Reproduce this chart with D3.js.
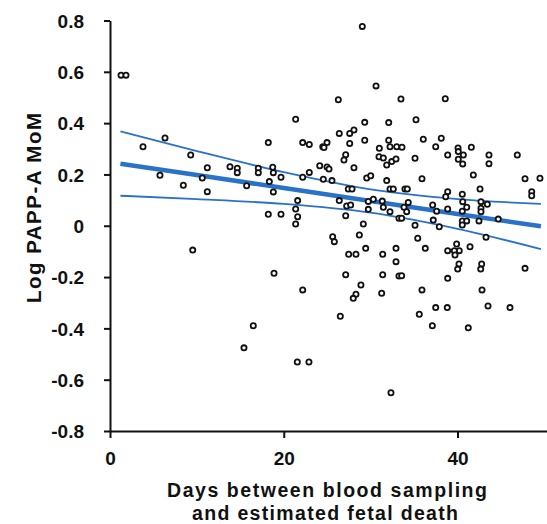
<!DOCTYPE html>
<html>
<head>
<meta charset="utf-8">
<script src="https://cdn.jsdelivr.net/npm/d3@7"></script>
<style>
  body { margin: 0; background: #fff; }
  svg text { font-family: "Liberation Sans", Arial, sans-serif; font-weight: bold; fill: #111; }
</style>
</head>
<body>
<svg id="canvas" width="547" height="524"></svg>
<script>
// days between sampling and fetal death
let days = [1.27,1.84,6.33,3.8,9.29,11.2,13.81,14.65,14.65,5.75,10.62,8.44,11.2,15.73,9.52,
  29.04,30.62,26.28,33.49,21.37,29.32,32.08,28.08,27.59,26.39,18.22,22.18,22.94,24.98,24.49,24.63,
  27.59,29.32,32.08,31.0,32.23,33.0,38.59,35.22,36.06,38.13,37.49,40.06,41.59,33.61,
  27.13,26.93,30.96,31.46,31.85,32.43,32.92,17.07,17.07,18.73,18.8,19.68,18.34,18.8,22.18,22.94,
  24.14,24.98,25.21,28.08,24.55,25.55,29.55,30.01,31.85,27.43,27.86,32.23,32.61,26.39,21.6,
  27.24,27.7,29.73,30.31,31.34,31.46,29.73,32.23,33.26,21.37,21.6,18.22,19.68,21.37,27.13,29.16,
  28.7,25.63,25.82,29.43,32.92,27.47,28.31,31.39,32.92,18.88,27.13,31.39,33.26,28.88,22.18,28.31,
  28.0,31.27,35.11,38.87,40.09,40.67,40.09,40.6,43.62,43.62,46.88,41.82,35.91,47.77,49.49,48.54,
  48.54,33.95,34.22,38.87,38.64,40.55,42.59,40.6,42.7,43.43,34.33,37.14,37.6,38.87,40.55,41.06,
  42.7,42.7,33.84,34.15,33.57,44.69,37.21,40.55,41.06,40.55,42.47,35.11,37.9,43.28,35.42,36.29,
  41.44,39.9,40.2,39.63,38.87,39.71,40.17,40.02,42.78,42.67,47.77,33.57,38.87,35.91,42.82,
  26.51,16.49,21.56,22.9,32.34,15.42,35.6,37.49,38.82,37.1,41.24,43.51,46.04]

// log PAPP-A MoM
let mom = [0.587,0.587,0.342,0.308,0.276,0.226,0.23,0.224,0.207,0.197,0.186,0.158,0.133,0.156,-0.095,
  0.777,0.545,0.491,0.494,0.415,0.403,0.402,0.373,0.36,0.36,0.324,0.324,0.317,0.324,0.308,0.305,
  0.321,0.333,0.333,0.302,0.308,0.308,0.495,0.413,0.337,0.341,0.308,0.303,0.306,0.306,
  0.277,0.256,0.269,0.264,0.237,0.25,0.26,0.224,0.207,0.228,0.207,0.189,0.172,0.132,0.189,0.208,
  0.234,0.229,0.221,0.226,0.181,0.176,0.186,0.195,0.176,0.143,0.143,0.143,0.143,0.098,0.098,
  0.077,0.081,0.095,0.103,0.096,0.072,0.064,0.055,0.029,0.065,0.035,0.045,0.045,0.007,0.039,0.007,
  -0.036,-0.043,-0.062,-0.088,-0.088,-0.111,-0.111,-0.111,-0.14,-0.185,-0.191,-0.191,-0.196,-0.231,-0.25,-0.267,
  -0.283,-0.263,0.263,0.276,0.289,0.276,0.259,0.241,0.276,0.242,0.276,0.198,0.183,0.183,0.185,0.133,
  0.117,0.143,0.143,0.133,0.113,0.123,0.143,0.094,0.094,0.084,0.091,0.081,0.057,0.065,0.057,0.072,
  0.068,0.055,0.072,0.055,0.029,0.026,0.022,0.019,0.019,0.003,0.019,0.002,-0.004,-0.045,-0.049,-0.088,
  -0.082,-0.071,-0.097,-0.097,-0.097,-0.114,-0.149,-0.169,-0.149,-0.169,-0.166,-0.195,-0.205,-0.25,-0.25,
  -0.353,-0.39,-0.531,-0.531,-0.651,-0.476,-0.345,-0.319,-0.319,-0.39,-0.398,-0.313,-0.319]

// regression line and 95% confidence band
let fitX = [1.2, 10, 20, 30, 40, 49.6]
let fitY = [0.242, 0.1975, 0.147, 0.0965, 0.046, -0.002]
let upperY = [0.368, 0.291, 0.209, 0.142, 0.104, 0.085]
let lowerY = [0.117, 0.104, 0.085, 0.051, -0.012, -0.091]

let xTicks = [0, 20, 40]
let yTicks = [-0.8, -0.6, -0.4, -0.2, 0, 0.2, 0.4, 0.6, 0.8]

let svg = d3.select("#canvas")

let x = d3.scaleLinear().domain([0, 50.3]).range([110, 547])
let y = d3.scaleLinear().domain([-0.8, 0.8]).range([431, 20.5])

let fmt = (d) => d === 0 ? "0" : d.toFixed(1)

let xAxis = svg.append("g")
  .attr("transform", "translate(0,431)")
  .call(d3.axisBottom(x).tickValues(xTicks).tickFormat(d3.format("d")).tickSize(7).tickSizeOuter(0))
let yAxis = svg.append("g")
  .attr("transform", "translate(110,0)")
  .call(d3.axisLeft(y).tickValues(yTicks).tickFormat(fmt).tickSize(6).tickSizeOuter(0).tickPadding(20))

svg.selectAll(".domain, .tick line").attr("stroke", "#111").attr("stroke-width", 2)
xAxis.selectAll("text").style("font-size", "19px").attr("dy", "0.71em").attr("y", 21)
yAxis.selectAll("text").style("font-size", "19px").attr("dy", "0.35em").attr("x", -26)

let line = d3.line().x((d) => x(d[0])).y((d) => y(d[1]))
let curve = d3.line().curve(d3.curveMonotoneX).x((d) => x(d[0])).y((d) => y(d[1]))

let fitColor = "#2a72c8"
svg.append("path")
  .attr("d", curve(fitX.map((d, i) => [d, upperY[i]])))
  .attr("fill", "none").attr("stroke", fitColor).attr("stroke-width", 1.8)
svg.append("path")
  .attr("d", curve(fitX.map((d, i) => [d, lowerY[i]])))
  .attr("fill", "none").attr("stroke", fitColor).attr("stroke-width", 1.8)
svg.append("path")
  .attr("d", line(fitX.map((d, i) => [d, fitY[i]])))
  .attr("fill", "none").attr("stroke", fitColor).attr("stroke-width", 4.5)

svg.selectAll("circle")
  .data(days.map((d, i) => [d, mom[i]]))
  .enter()
  .append("circle")
  .attr("cx", (d) => x(d[0]))
  .attr("cy", (d) => y(d[1]))
  .attr("r", 2.6)
  .attr("fill", "#fff")
  .attr("stroke", "#111")
  .attr("stroke-width", 1.8)

svg.append("text")
  .attr("transform", "translate(41,208) rotate(-90)")
  .attr("text-anchor", "middle")
  .style("font-size", "20.5px")
  .attr("textLength", 190)
  .attr("lengthAdjust", "spacing")
  .text("Log PAPP-A MoM")

let xTitle = svg.append("text")
  .attr("text-anchor", "middle")
  .style("font-size", "19.5px")
xTitle.append("tspan").attr("x", 327).attr("y", 497).attr("textLength", 320).attr("lengthAdjust", "spacing")
  .text("Days between blood sampling")
xTitle.append("tspan").attr("x", 325).attr("y", 520).attr("textLength", 266).attr("lengthAdjust", "spacing")
  .text("and estimated fetal death")
</script>
</body>
</html>
